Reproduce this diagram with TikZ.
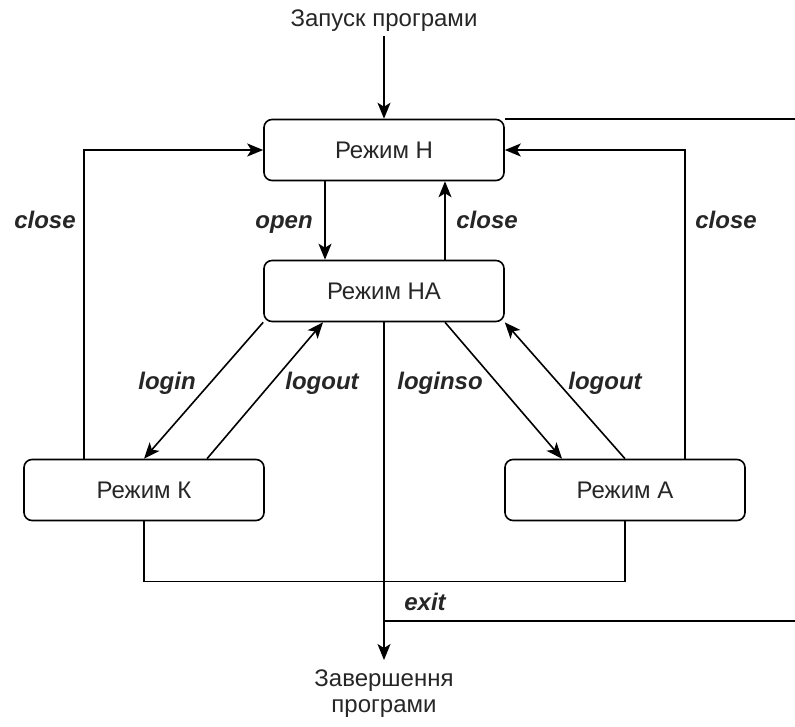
\documentclass[tikz,border=0pt]{standalone}
\usepackage{fontspec}
\setmainfont{Liberation Sans}
\usetikzlibrary{arrows.meta}

\begin{document}
\begin{tikzpicture}[x=1pt,y=-1pt,->,>={Stealth[length=16pt,width=13pt,inset=4pt]},
                    line width=1.6pt,font=\fontsize{24}{26}\selectfont,text=black!85]
  \tikzset{mode/.style={draw=black,rounded corners=8pt,minimum width=240pt,minimum height=61pt,inner sep=0pt},
           lbl/.style={font=\fontsize{24}{26}\selectfont\bfseries\itshape,anchor=base}}
  \useasboundingbox (0,0) rectangle (795,726);

  \node[mode] (H)  at (384,150) {Режим Н};
  \node[mode] (HA) at (384,291) {Режим НА};
  \node[mode] (K)  at (144,490) {Режим К};
  \node[mode] (A)  at (625,490) {Режим А};
  \node (start) at (384,21) {Запуск програми};
  \node[align=center,anchor=north] (end) at (384,666) {Завершення\\програми};
  \coordinate (exitR) at (795,621);
  \coordinate (exitL) at (384,621);
  \coordinate (topR)  at (H.north east -| exitR);

  \draw (start) -- (H);
  \draw ([xshift=-59pt]H.south) -- ([xshift=-59pt]HA.north);
  \draw ([xshift=61pt]HA.north) -- ([xshift=61pt]H.south);
  \draw (HA.south west) -- (K.north);
  \draw ([xshift=63pt]K.north) -- ([xshift=-61pt]HA.south);
  \draw ([xshift=61pt]HA.south) -- ([xshift=-63pt]A.north);
  \draw (A.north) -- (HA.south east);
  \draw ([xshift=-60pt]K.north) |- (H.west);
  \draw ([xshift=60pt]A.north) |- (H.east);
  \draw[-] (K.south) -- ++(0,60) -| (A.south);
  \draw[shorten >=6pt] (HA.south) -- (end);
  \draw[-] (H.north east) -- (topR);
  \draw[-] (exitR) -- (exitL);

  \node[lbl] (lclose) at (45,228)  {close};
  \node[lbl] (lopen)  at (284,228) {open};
  \node[lbl] (mclose) at (487,228) {close};
  \node[lbl] (rclose) at (726,228) {close};
  \node[lbl] (klogin) at (167,389) {login};
  \node[lbl] (klogout) at (322,389) {logout};
  \node[lbl] (alogin) at (440,389) {loginso};
  \node[lbl] (alogout) at (605,389) {logout};
  \node[lbl] (lexit)  at (425,610) {exit};
\end{tikzpicture}
\end{document}
